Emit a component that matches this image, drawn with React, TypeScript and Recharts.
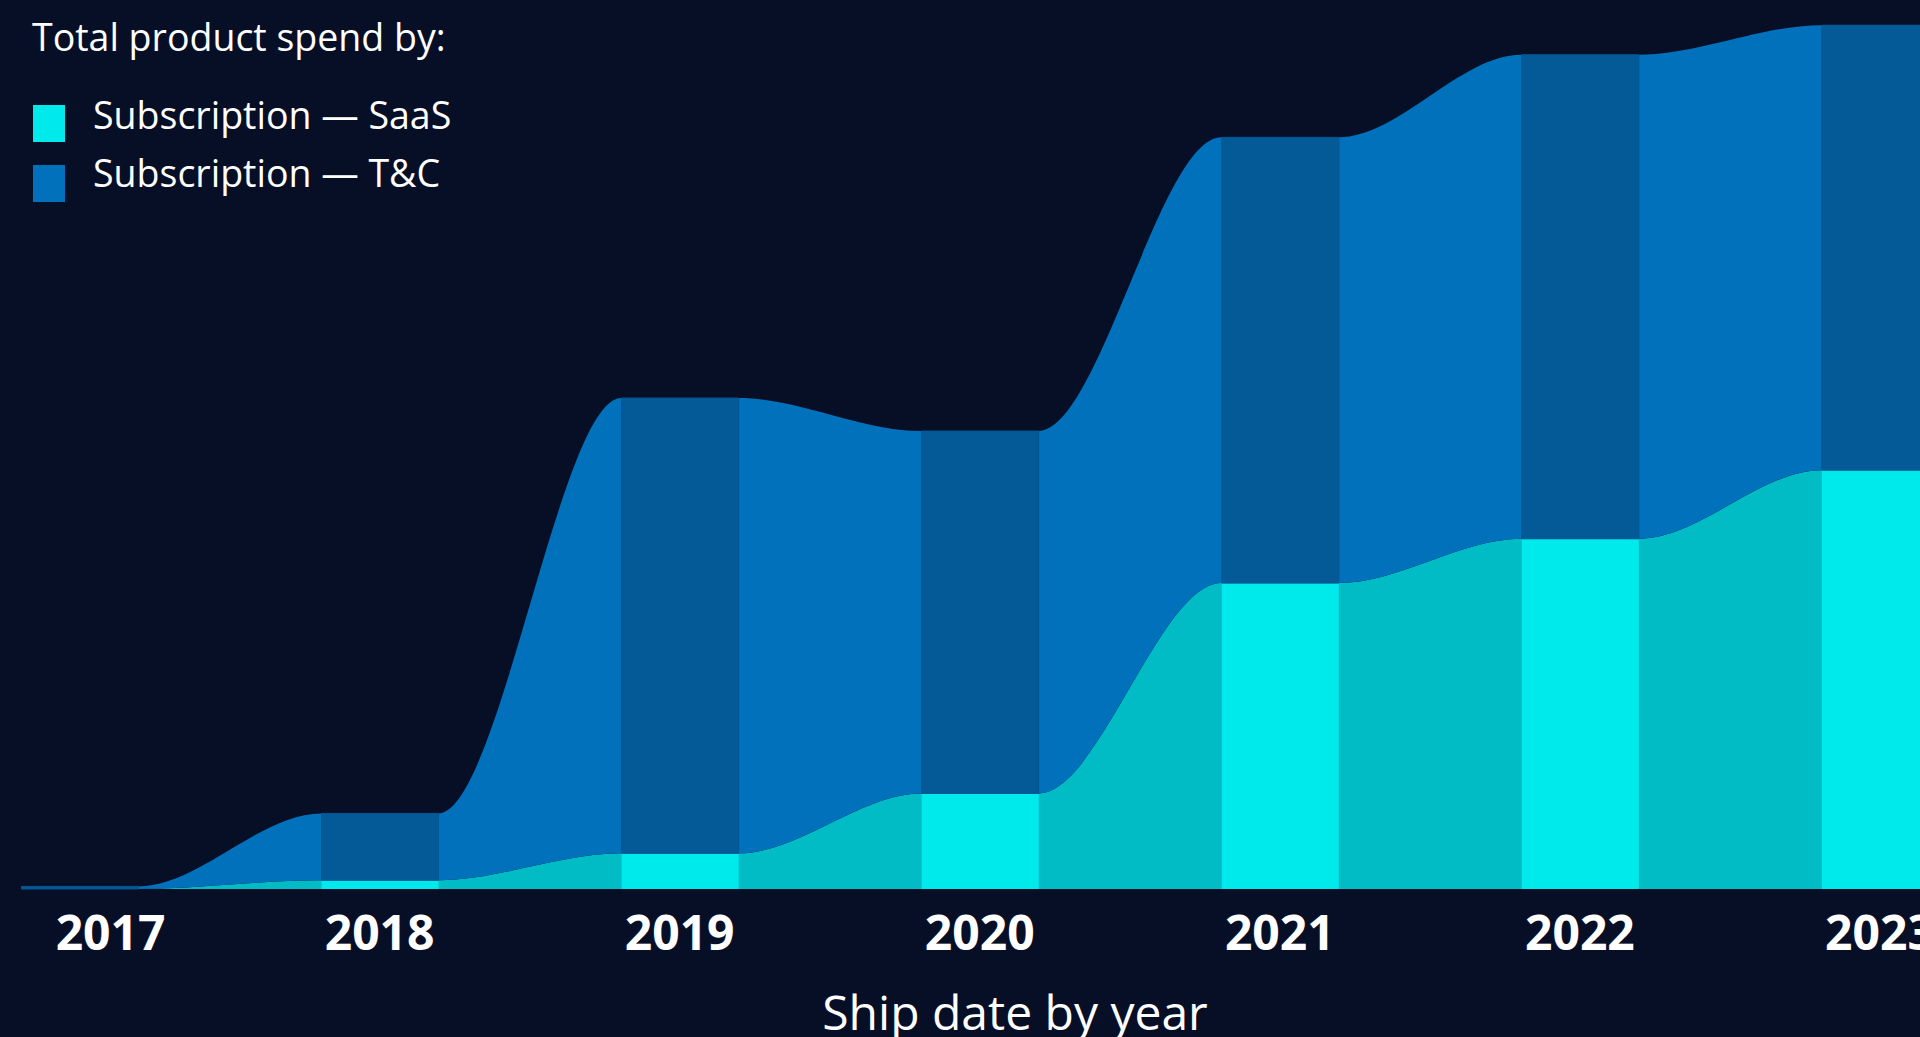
import { ComposedChart, BarChart, Area, Bar, XAxis, YAxis } from "recharts";

// total product spend (relative units) by ship year
const years = [2017, 2018, 2019, 2020, 2021, 2022, 2023];
const saas = [0, 1.0, 4.1, 11.0, 35.2, 40.3, 48.2];
const tandc = [0.3, 7.7, 52.4, 41.7, 51.3, 55.7, 51.2];

const series = [
  { name: "Subscription — SaaS", color: "#00E9EB" },
  { name: "Subscription — T&C", color: "#0071BA" },
];

// each year gets a flat shoulder the width of its bar so the flows meet the bars
const HALF = 0.195;
const flowRows = years.flatMap((year, i) => [
  { x: year - HALF, saas: saas[i], tandc: tandc[i] },
  { x: year, saas: saas[i], tandc: tandc[i] },
  { x: year + HALF, saas: saas[i], tandc: tandc[i] },
]);
const barRows = years.map((year, i) => ({ x: year, saas: saas[i], tandc: tandc[i] }));

const font = "'Open Sans', 'Noto Sans', sans-serif";
const X_DOMAIN: [number, number] = [2016.735, 2023.5];
const CHART_W = 2030;
const CHART_H = 1037;
const AXIS_H = 148;
const overlay = { position: "absolute" as const, left: 0, top: 0 };

// first label sits a little right of its slot in the original
function YearTick(props: any) {
  const { x, y, payload, index } = props;
  return (
    <text
      x={x + (index === 0 ? 31 : 0)}
      y={y}
      dy="0.71em"
      textAnchor="middle"
      fill="#FFFFFF"
      fontSize={48}
      fontWeight={700}
    >
      {payload.value}
    </text>
  );
}

function LegendBlock() {
  return (
    <div style={{ position: "absolute", left: 0, top: 0, color: "#fff", fontSize: 37.5 }}>
      <div style={{ position: "absolute", left: 32, top: 11, whiteSpace: "nowrap" }}>
        Total product spend by:
      </div>
      {series.map((s, i) => (
        <div key={s.name}>
          <div
            style={{
              position: "absolute",
              left: 33,
              top: 105 + i * 60,
              width: 32,
              height: 37,
              background: s.color,
            }}
          />
          <div style={{ position: "absolute", left: 93, top: 89 + i * 58, whiteSpace: "nowrap" }}>
            {s.name}
          </div>
        </div>
      ))}
    </div>
  );
}

export default function App() {
  return (
    <div
      style={{
        position: "fixed",
        left: 0,
        top: 0,
        width: 1920,
        height: 1037,
        overflow: "hidden",
        background: "#070F27",
        fontFamily: font,
      }}
    >
      {/* flows between the years */}
      <ComposedChart
        width={CHART_W}
        height={CHART_H}
        data={flowRows}
        margin={{ top: 20, right: 0, bottom: 0, left: 0 }}
        style={overlay}
      >
        <XAxis
          dataKey="x"
          type="number"
          domain={X_DOMAIN}
          ticks={years}
          allowDataOverflow
          axisLine={false}
          tickLine={false}
          tickSize={6}
          tickMargin={21}
          height={AXIS_H}
          tick={YearTick}
          label={{
            value: "Ship date by year",
            position: "insideBottom",
            offset: 7,
            fill: "#FFFFFF",
            fontSize: 48,
          }}
        />
        <YAxis hide width={0} domain={[0, 100]} />
        <Area
          type="monotone"
          dataKey="saas"
          stackId="flow"
          fill="#02BCC5"
          fillOpacity={1}
          stroke="none"
          isAnimationActive={false}
        />
        <Area
          type="monotone"
          dataKey="tandc"
          stackId="flow"
          fill="#0071BA"
          fillOpacity={1}
          stroke="none"
          isAnimationActive={false}
        />
      </ComposedChart>

      {/* yearly bars on top, same scales */}
      <BarChart
        width={CHART_W}
        height={CHART_H}
        data={barRows}
        margin={{ top: 20, right: 0, bottom: AXIS_H, left: 0 }}
        style={overlay}
      >
        <XAxis dataKey="x" type="number" domain={X_DOMAIN} allowDataOverflow hide />
        <YAxis hide width={0} domain={[0, 100]} />
        <Bar dataKey="saas" stackId="bars" barSize={117} fill="#00E9EB" isAnimationActive={false} />
        <Bar
          dataKey="tandc"
          stackId="bars"
          barSize={117}
          fill="#035A97"
          stroke="#045590"
          strokeWidth={1}
          isAnimationActive={false}
        />
      </BarChart>

      <LegendBlock />
    </div>
  );
}
